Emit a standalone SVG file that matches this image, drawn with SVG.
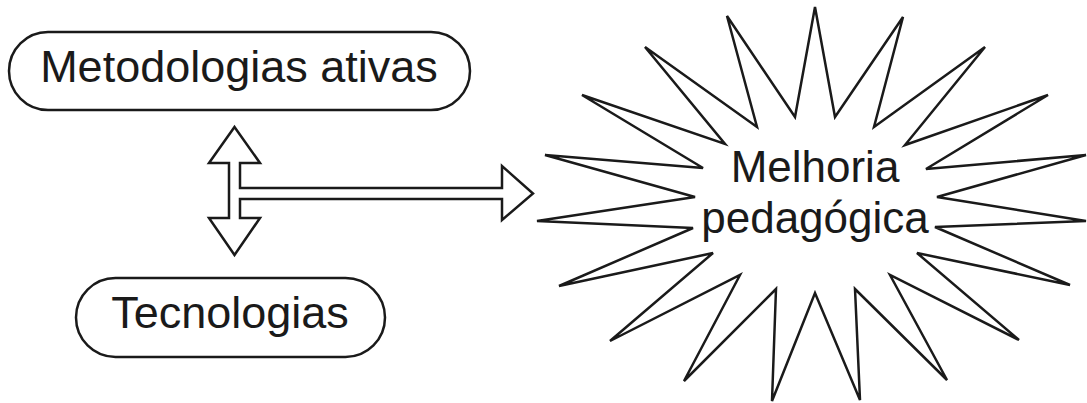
<svg xmlns="http://www.w3.org/2000/svg" width="1087" height="403" viewBox="0 0 1087 403">
<style>
.shape{fill:#fff;stroke:#1a1a1a;stroke-width:2.5;stroke-linejoin:miter}
.lbl{font-family:"Liberation Sans",Arial,sans-serif;font-size:45px;fill:#1a1a1a;text-anchor:middle}
</style>
<rect width="1087" height="403" fill="#fff"/>
<g id="connectors">
<polygon class="shape" points="234.5,127 260,163 240,163 240,188 502,188 502,166 533,193.5 502,220 502,199 240,199 240,218 260,218 234.5,255 209,218 229,218 229,163 209,163"/>
</g>
<g id="node-metodologias">
<rect class="shape" x="9" y="32" width="461" height="78" rx="39" ry="39"/>
<text class="lbl" x="239" y="82">Metodologias ativas</text>
</g>
<g id="node-tecnologias">
<rect class="shape" x="76" y="278" width="309" height="79" rx="39.5" ry="39.5"/>
<text class="lbl" x="230" y="328">Tecnologias</text>
</g>
<g id="node-melhoria">
<polygon class="shape" points="815,7 835,117 903,17 874,127 985,47 905,145 1048,95 926,169 1086,155 937,197 1086,221 935,227 1070,285 917,253 1019,340 890,275 947,380 855,289 860,400 815,293 772,401 776,289 684,381 740,275 610,341 713,253 559,286 693,228 537,221 695,197 545,155 703,168 582,95 725,144 645,47 757,127 727,16 795,117"/>
<text class="lbl" x="815" y="182" style="font-size:44px">Melhoria</text>
<text class="lbl" x="815" y="233" style="font-size:44px">pedagógica</text>
</g>
</svg>
